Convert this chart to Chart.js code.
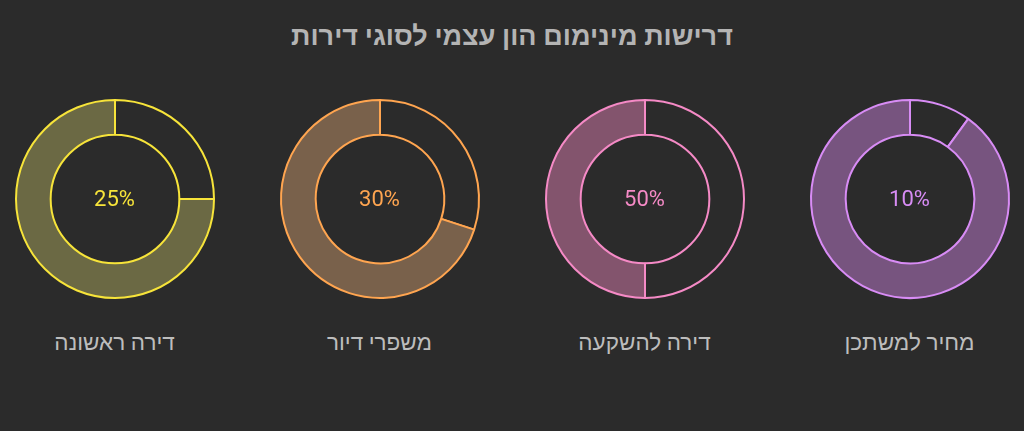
<!DOCTYPE html>
<html><head><meta charset="utf-8">
<script src="https://cdn.jsdelivr.net/npm/chart.js@4"></script>
<style>
html,body{margin:0;padding:0;background:#2b2b2b;width:1024px;height:431px;overflow:hidden;font-family:Roboto,sans-serif;}
#title{position:absolute;left:0;top:20px;width:1024px;text-align:center;color:#b4b4b4;font-weight:bold;font-size:27px;line-height:32px;direction:rtl;}
.cell{position:absolute;width:220px;height:220px;}
.pct{position:absolute;width:220px;text-align:center;font-size:22px;line-height:26px;}
.lbl{position:absolute;width:265px;text-align:center;font-size:22.5px;line-height:28px;color:#bdbdbd;direction:rtl;}
</style></head>
<body>
<div id="title">דרישות מינימום הון עצמי לסוגי דירות</div>
<div id="root"></div>
<script>
const categories = ["דירה ראשונה", "משפרי דיור", "דירה להשקעה", "מחיר למשתכן"];
const percentages = [25, 30, 50, 10];
const colors = ["#f7e43a", "#ffa550", "#f58ac6", "#d88cf5"];
const fills = ["#6b6944", "#79614b", "#83546d", "#77547f"];

const root = document.getElementById('root');
const cx0 = 114.5, step = 265, cy = 198.5;
categories.forEach((cat, i) => {
  const cx = cx0 + step * i;
  const cell = document.createElement('div');
  cell.className = 'cell';
  cell.style.left = (cx - 110) + 'px';
  cell.style.top = (cy - 110) + 'px';
  const cv = document.createElement('canvas');
  cv.width = 220; cv.height = 220;
  cell.appendChild(cv);
  root.appendChild(cell);

  const pct = document.createElement('div');
  pct.className = 'pct';
  pct.style.left = (cx - 110) + 'px';
  pct.style.top = (cy - 13) + 'px';
  pct.style.color = colors[i];
  pct.textContent = percentages[i] + '%';
  root.appendChild(pct);

  const lbl = document.createElement('div');
  lbl.className = 'lbl';
  lbl.style.left = (cx - 132.5) + 'px';
  lbl.style.top = '328px';
  lbl.textContent = cat;
  root.appendChild(lbl);

  new Chart(cv, {
    type: 'doughnut',
    data: {
      labels: [cat, ''],
      datasets: [{
        data: [percentages[i], 100 - percentages[i]],
        backgroundColor: ['rgba(0,0,0,0)', fills[i]],
        borderColor: colors[i],
        borderWidth: 2,
        hoverOffset: 0
      }]
    },
    options: {
      responsive: false,
      animation: false,
      radius: 99,
      cutout: '65%',
      events: [],
      layout: {padding: 0},
      plugins: {legend: {display: false}, tooltip: {enabled: false}, title: {display: false}}
    }
  });
});
</script>
</body></html>
